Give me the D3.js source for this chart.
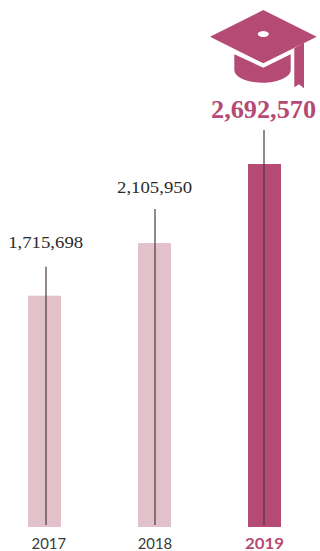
<!DOCTYPE html>
<html><head><meta charset="utf-8">
<script src="https://cdn.jsdelivr.net/npm/d3@7"></script>
<style>html,body{margin:0;padding:0;background:#fff}svg{display:block}</style>
</head><body><svg id="c" width="320" height="551"></svg>
<script>
const years = ["2017","2018","2019"];
const values = [1715698,2105950,2692570];
const highlight = "2019";
const rose = "#b54a74", pale = "#e3c1ca";
const svg = d3.select("#c");
const x = d3.scalePoint().domain(years).range([44.5,264.5]);
const y = d3.scaleLinear().domain([0,2692570]).range([527,164]);
const bw = 33;
const stems = [29,34,34];
const stemDx = [1.5,0.5,-0.5];
const labelGap = [19,16,12];
const labelDx = [1.2,0,-1];
const yearDx = [4.3,0.5,0];
const isH = d => d === highlight;
years.forEach((yr,i)=>{
  const cx = x(yr), top = y(values[i]);
  svg.append("rect").attr("x",cx-bw/2).attr("y",top).attr("width",bw).attr("height",y(0)-top)
    .attr("fill",isH(yr)?rose:pale);
  svg.append("line").attr("x1",cx+stemDx[i]).attr("x2",cx+stemDx[i]).attr("y1",top-stems[i]).attr("y2",y(0)-2)
    .attr("stroke","#4a3a40").attr("stroke-opacity",0.8).attr("stroke-width",1.5);
  svg.append("text").attr("x",cx+labelDx[i]).attr("y",top-stems[i]-labelGap[i])
    .attr("text-anchor","middle")
    .attr("font-family","'Liberation Serif'")
    .attr("font-size",isH(yr)?24.5:17.5)
    .attr("font-weight",isH(yr)?"bold":"normal")
    .attr("fill",isH(yr)?rose:"#2b2b2b")
    .attr("textLength",isH(yr)?105:75)
    .attr("lengthAdjust","spacingAndGlyphs")
    .text(d3.format(",")(values[i]));
  svg.append("text").attr("x",cx+yearDx[i]).attr("y",549)
    .attr("text-anchor","middle")
    .attr("font-family","Lato")
    .attr("font-size",16)
    .attr("font-weight",isH(yr)?"bold":"normal")
    .attr("fill",isH(yr)?rose:"#3a3a3a")
    .attr("textLength",isH(yr)?39:34.5)
    .attr("lengthAdjust","spacingAndGlyphs")
    .text(yr);
});
const icon = svg.append("g").attr("fill",rose);
icon.append("path").attr("fill-rule","evenodd").attr("d",
 "M263.3 10L316.7 36.7L263.3 63.3L210 36.7Z M263.3 31a5.5 3 0 1 0 .01 0Z");
icon.append("path").attr("d",
 "M234.3 54.3L263.3 67.7L290.7 54.3V70C290.7 77 278 82.7 262.5 82.7C247 82.7 234.3 77 234.3 70Z");
icon.append("path").attr("d","M294.3 48.3L304 42.7V88.3L299 84.3L294.3 87.3Z");
</script></body></html>
